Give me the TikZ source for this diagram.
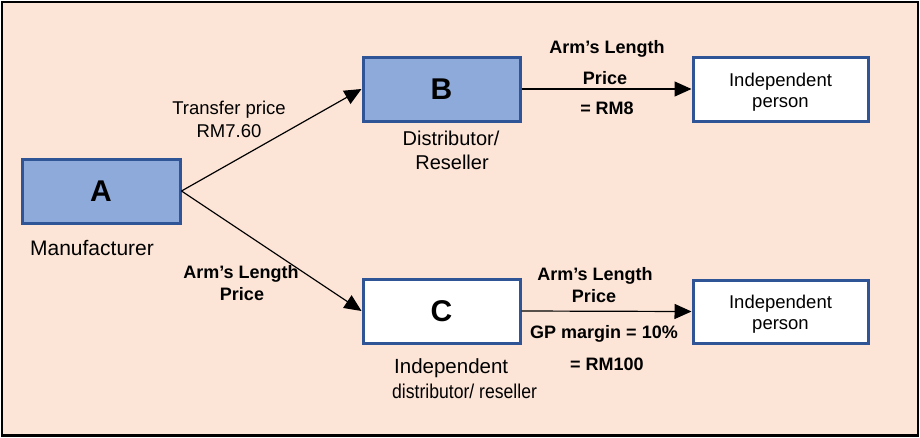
\documentclass[tikz,border=0pt]{standalone}
\usepackage{fontspec}
\setmainfont{Liberation Sans}
\usetikzlibrary{arrows.meta}
\definecolor{sheet}{HTML}{FCE4D6}
\definecolor{boxfill}{HTML}{8EAADB}
\definecolor{boxline}{HTML}{2F5597}
\newcommand{\fsz}[1]{\fontsize{#1}{1.2\dimexpr#1pt\relax}\selectfont}
\tikzset{
  entity/.style={draw=boxline, line width=3pt, inner sep=0pt, font=\fsz{30}\bfseries},
  tinted/.style={entity, fill=boxfill},
  plain/.style={entity, fill=white},
  partybox/.style={draw=boxline, line width=3pt, fill=white, inner sep=0pt,
    minimum width=175pt, minimum height=64pt},
  partytext/.style={inner sep=0pt, align=center, font=\fsz{18.5}},
  flow/.style={draw=black, line width=1.2pt, -{Triangle[length=17pt,width=15pt]}},
  caption/.style={anchor=base, inner sep=0pt, font=\fsz{#1}},
  boldcap/.style={anchor=base, inner sep=0pt, font=\fsz{#1}\bfseries},
}
\begin{document}
\begin{tikzpicture}[x=1pt, y=-1pt]
  \useasboundingbox (0,0) rectangle (920,437);
  % page frame
  \draw[fill=sheet, line width=2.4pt] (2,2) rectangle (918,435.5);

  % entities
  \node[tinted, minimum width=158pt, minimum height=64pt] (A) at (101,191) {A};
  \node[tinted, minimum width=157pt, minimum height=64pt] (B) at (441.5,89) {B};
  \node[plain,  minimum width=157pt, minimum height=64pt] (C) at (441.5,311) {C};
  \node[partybox] (P1) at (780.5,89) {};
  \node[partybox, minimum height=63pt] (P2) at (780.5,311.5) {};
  \node[partytext] (P1t) at (780.5,92) {Independent\\[-1pt]person};
  \node[partytext] (P2t) at (780.5,314) {Independent\\[-1pt]person};

  % flows
  \draw[flow] (A.east) -- (B.west);
  \draw[flow] (A.east) -- (C.west);
  \draw[flow] (B.east) -- (P1.west);
  \draw[flow] (C.east) -- (P2.west);

  % entity captions
  \node[caption=21] (capA) at (92,255) {Manufacturer};
  \node[caption=20] (capB1) at (451,145) {Distributor/};
  \node[caption=20] (capB2) at (452,169) {Reseller};
  \node[caption=20.5, anchor=base west] (capC1) at (394,373) {Independent};
  \node[caption=20, anchor=base west] (capC2) at (392,398)
    {\addfontfeature{FakeStretch=0.88}distributor/ reseller};

  % flow labels
  \node[caption=18.5] (tp1) at (229,114) {Transfer price};
  \node[caption=18.5] (tp2) at (229,137) {RM7.60};

  \node[boldcap=18] (al1) at (241,278) {Arm’s Length};
  \node[boldcap=18] (al2) at (242,300) {Price};

  \node[boldcap=18] (bp1) at (607,53) {Arm’s Length};
  \node[boldcap=18] (bp2) at (605,84) {Price};
  \node[boldcap=18] (bp3) at (607,114) {= RM8};

  \node[boldcap=18] (cp1) at (595,280) {Arm’s Length};
  \node[boldcap=18] (cp2) at (594,302) {Price};
  \node[boldcap=18] (cp3) at (604,338) {GP margin = 10\%};
  \node[boldcap=18] (cp4) at (607,370) {= RM100};
\end{tikzpicture}
\end{document}
